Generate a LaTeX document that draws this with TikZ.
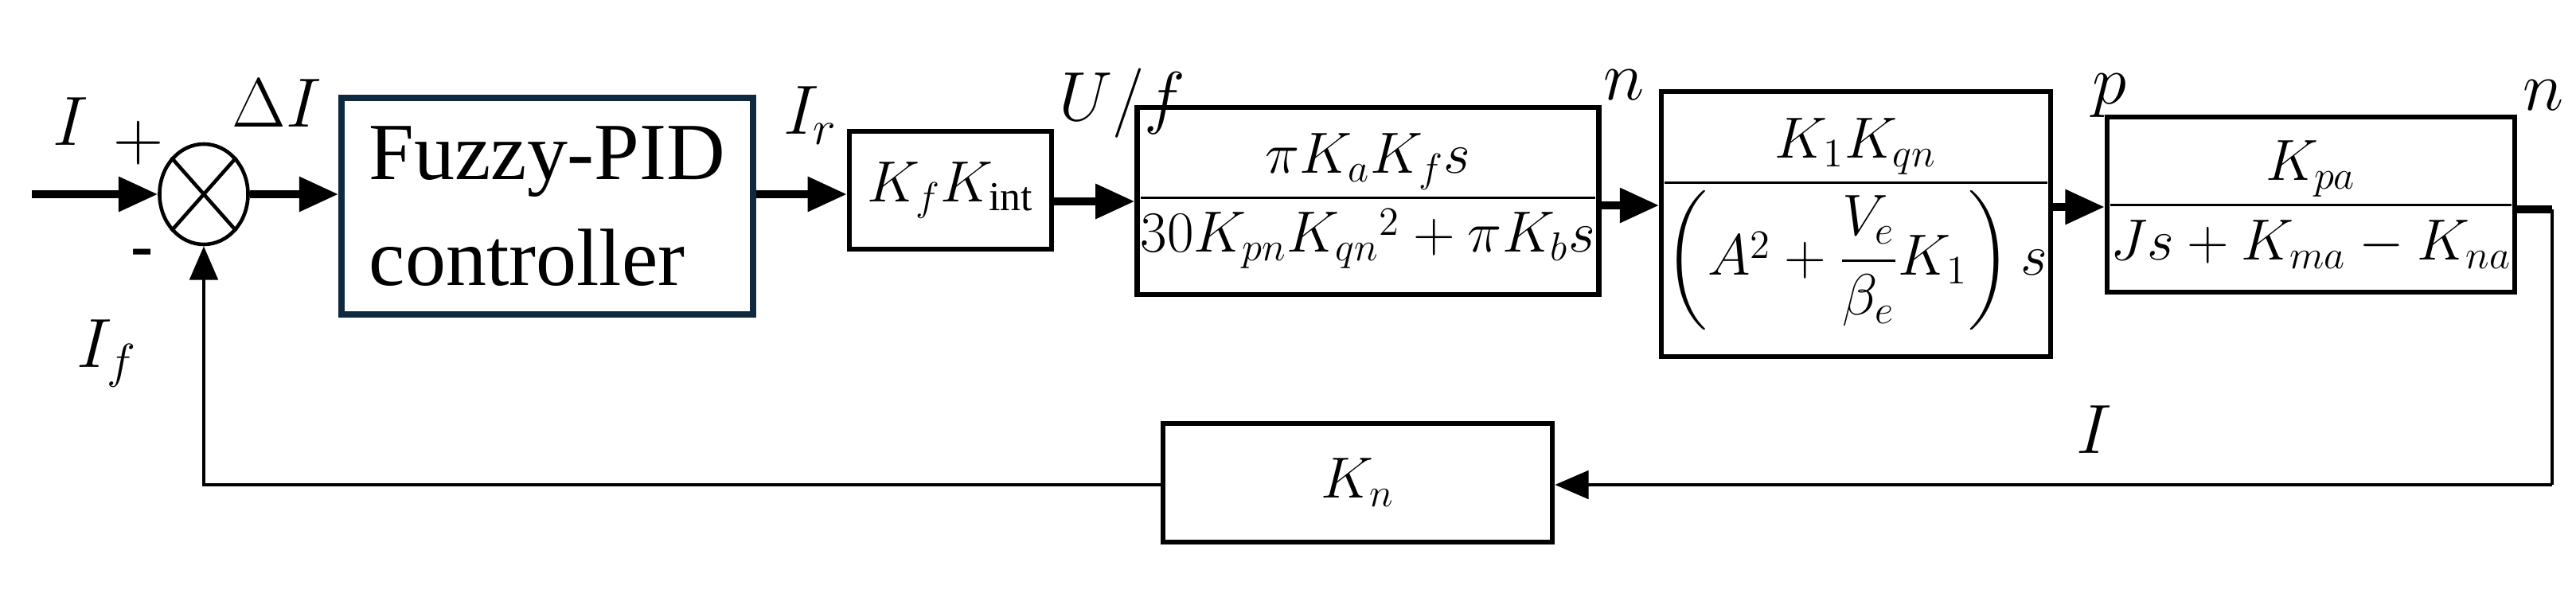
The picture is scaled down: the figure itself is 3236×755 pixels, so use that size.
\documentclass[tikz,border=0pt]{standalone}
\usepackage{amsmath}
\usepackage{fontspec}
\setmainfont{Liberation Serif}
\usetikzlibrary{arrows.meta,shapes.geometric}
\definecolor{navy}{HTML}{0F2A3F}
\begin{document}
\begin{tikzpicture}[x=0.01cm,y=-0.01cm,
  blk/.style={draw,line width=1.8pt,inner sep=0pt},
  fwd/.style={line width=2.6pt,-{Triangle[length=14pt,width=12pt]}},
  fb/.style={line width=1.3pt,-{Triangle[length=12pt,width=10pt]}},
  lbl/.style={font=\fontsize{24}{28}\selectfont},
  mth/.style={font=\fontsize{21}{25}\selectfont}]
\useasboundingbox (0,0) rectangle (3236,755);
% blocks
\node[draw,ellipse,line width=1.3pt,minimum width=1.11cm,minimum height=1.26cm,inner sep=0pt] (sum) at (256,244) {};
\draw[line width=1.3pt] (sum.north west) -- (sum.south east) (sum.south west) -- (sum.north east);
\node[blk,draw=navy,line width=2.2pt,minimum width=5.17cm,minimum height=2.72cm,
      font=\fontsize{29}{38}\selectfont,align=left] (fz) at (687.5,259) {Fuzzy-PID\\controller};
\node[blk,minimum width=2.54cm,minimum height=1.48cm,mth] (kk) at (1194,239) {$K_fK_{\mathrm{int}}$};
\node[blk,minimum width=5.47cm,minimum height=2.35cm,mth] (b3) at (1718.5,252.5)
  {$\dfrac{\pi K_aK_fs}{30K_{pn}K_{qn}{}^{2}+\pi K_bs}$};
\node[blk,minimum width=4.53cm,minimum height=3.33cm,mth] (b4) at (2331.5,281.5)
  {$\dfrac{K_1K_{qn}}{\left(A^2+\dfrac{V_e}{\beta_e}K_1\right)s}$};
\node[blk,minimum width=4.52cm,minimum height=2.2cm,mth] (b5) at (2903,257)
  {$\dfrac{K_{pa}}{Js+K_{ma}-K_{na}}$};
\node[blk,minimum width=4.89cm,minimum height=1.49cm,mth] (kn) at (1705.5,606.5) {$K_n$};
% connectors
\coordinate (in) at (40,244);
\draw[fwd] (in) -- (sum.west);
\draw[fwd] (sum.east) -- (fz.west |- sum.east);
\draw[fwd] (fz.east |- sum.east) -- (kk.west |- sum.east);
\draw[fwd] (kk.east |- 0,253) -- (b3.west |- 0,253);
\draw[fwd] (b3.east |- 0,258) -- (b4.west |- 0,258);
\draw[fwd] (b4.east |- 0,260) -- (b5.west |- 0,260);
\coordinate (rc) at (3206,263);
\coordinate (rb) at (3206,609);
\coordinate (lb) at (256,609);
\draw[line width=2.6pt] (b5.east |- rc) -- (rc);
\draw[line width=1.3pt] (rc) -- (rb);
\draw[fb] (rb) -- (kn.east |- rb);
\draw[fb] (kn.west |- lb) -- (lb) -- (sum.south);
% labels
\node[lbl] (lI) at (89,153) {$I$};
\node[lbl] (lp) at (174,180) {$+$};
\node[lbl] (lD) at (348,130) {$\Delta I$};
\node[lbl] (lm) at (179,325) {\textbf{-}};
\node[lbl] (lIf) at (134,444) {$I_f$};
\node[lbl] (lIr) at (1018,145) {$I_r$};
\node[lbl] (lU) at (1410,130) {$U/f$};
\node[lbl] (ln1) at (2040,107) {$n$};
\node[lbl] (lpp) at (2650,120) {$p$};
\node[lbl] (ln2) at (3195,120) {$n$};
\node[lbl] (lI2) at (2631,540) {$I$};
\end{tikzpicture}
\end{document}
